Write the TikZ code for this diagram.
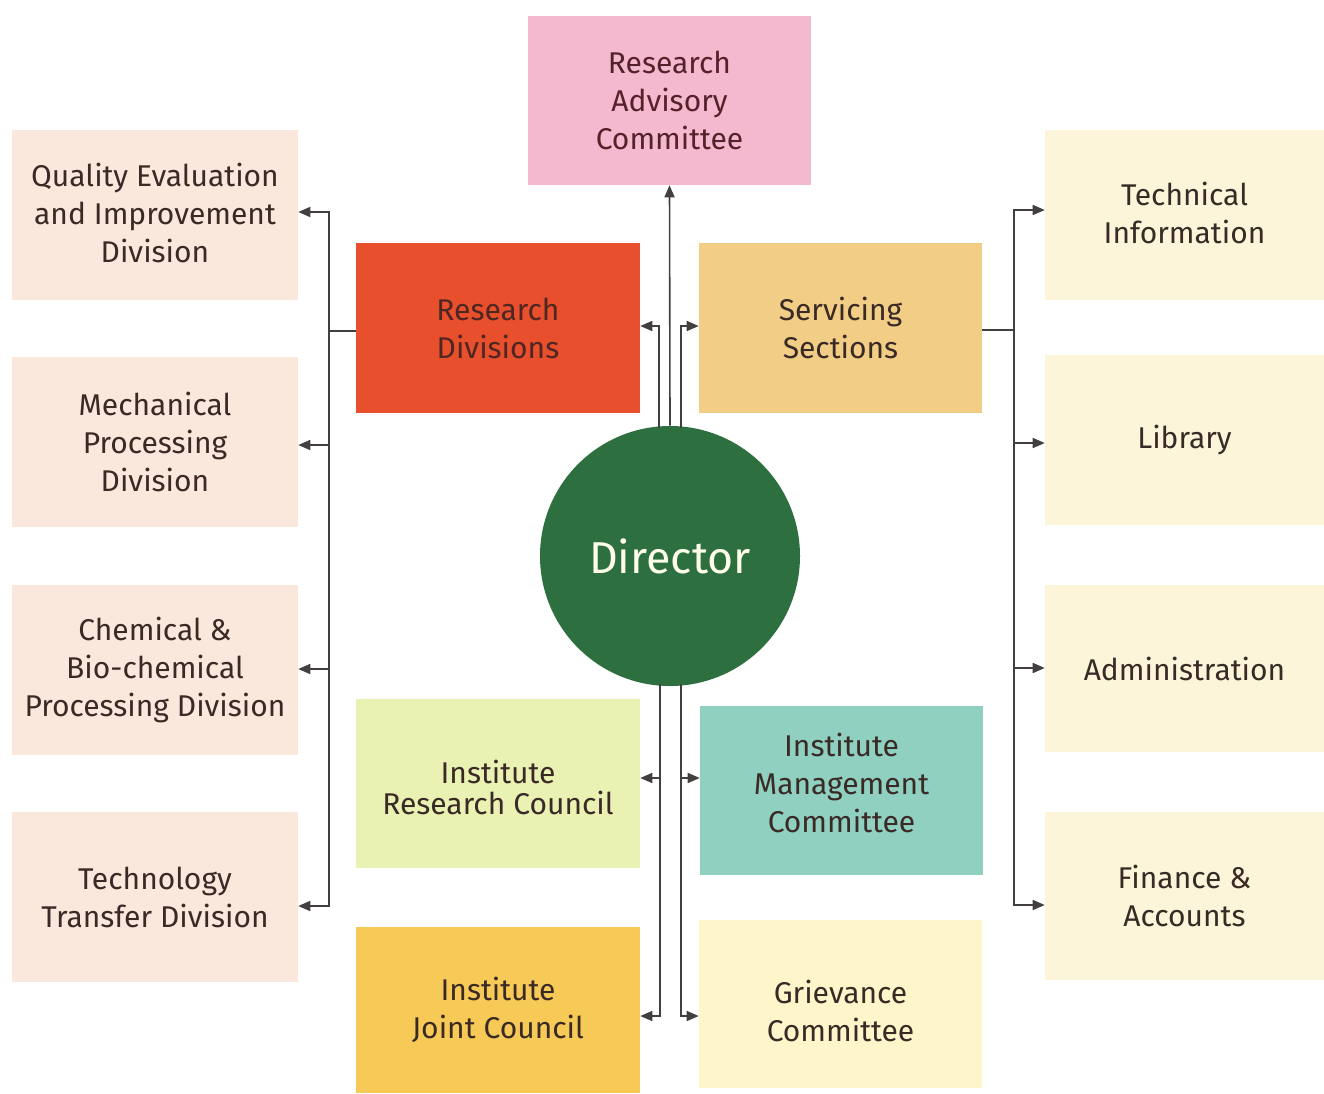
\documentclass[tikz,border=0pt]{standalone}
\usepackage{fontspec}
\setmainfont{Fira Sans}
\usetikzlibrary{arrows.meta,calc}

\definecolor{linec}{HTML}{443F3F}
\definecolor{txt}{HTML}{3A2A26}
\definecolor{racfill}{HTML}{F4B9CE}
\definecolor{leftfill}{HTML}{FBE8DC}
\definecolor{rdfill}{HTML}{E84F2C}
\definecolor{ssfill}{HTML}{F1CD86}
\definecolor{rightfill}{HTML}{FDF5D9}
\definecolor{dirfill}{HTML}{2D6F3E}
\definecolor{ircfill}{HTML}{E9F2B3}
\definecolor{imcfill}{HTML}{8FD0C1}
\definecolor{ijcfill}{HTML}{F7C957}
\definecolor{gcfill}{HTML}{FEF6CA}

\begin{document}
\begin{tikzpicture}[x=0.75pt,y=-0.75pt,
  box/.style={rectangle, inner sep=0pt, align=center, text=txt,
    font=\fontsize{22.5}{28.5}\selectfont},
  caption/.style={inner sep=0pt, align=center, text=txt,
    font=\fontsize{22.5}{28.5}\selectfont},
  sz/.style 2 args={minimum width=#1*0.75pt, minimum height=#2*0.75pt},
  link/.style={draw=linec, line width=1.2pt},
  arr/.style={link, -{Triangle[length=9pt,width=7.5pt]}}]

\useasboundingbox (0,0) rectangle (1324,1093);

% top committee
\node[box, fill=racfill, sz={283}{169}, text=txt!80!purple] (rac) at (669.5,100.5)
  {Research\\Advisory\\Committee};

% director
\node[circle, fill=dirfill, minimum size=260*0.75pt, inner sep=0pt,
  text=white!92!yellow, font=\fontsize{33.5}{38}\selectfont] (dir) at (670,556) {Director};

% central units
\node[box, fill=rdfill, sz={284}{170}, text=txt!90!red] (rd) at (498,328) {Research\\Divisions};
\node[box, fill=ssfill, sz={283}{170}] (ss) at (840.5,328) {Servicing\\Sections};
\node[box, fill=ircfill, sz={284}{169}] (irc) at (498,783.5) {};
\node[caption] (irc-t) at (498,787.5) {Institute\\[-5.25pt]Research Council};
\node[box, fill=imcfill, sz={283}{169}] (imc) at (841.5,790.5) {};
\node[caption] (imc-t) at (841.5,783) {Institute\\Management\\Committee};
\node[box, fill=ijcfill, sz={284}{166}] (ijc) at (498,1010) {Institute\\Joint Council};
\node[box, fill=gcfill, sz={283}{168}] (gc) at (840.5,1004) {};
\node[caption] (gc-t) at (840.5,1011) {Grievance\\Committee};

% research divisions (left column)
\node[box, fill=leftfill, sz={286}{170}] (qe) at (155,215) {};
\node[caption] (qe-t) at (155,212.5) {Quality Evaluation\\and Improvement\\Division};
\node[box, fill=leftfill, sz={286}{170}] (mp) at (155,442) {Mechanical\\Processing\\Division};
\node[box, fill=leftfill, sz={286}{170}] (cb) at (155,670) {Chemical \&\\Bio-chemical\\Processing Division};
\node[box, fill=leftfill, sz={286}{170}] (tt) at (155,897) {Technology\\Transfer Division};

% servicing sections (right column)
\node[box, fill=rightfill, sz={279}{170}] (ti) at (1184.5,215) {};
\node[caption] (ti-t) at (1184.5,212.5) {Technical\\Information};
\node[box, fill=rightfill, sz={279}{170}] (lib) at (1184.5,440) {Library};
\node[box, fill=rightfill, sz={279}{167}] (adm) at (1184.5,668.5) {Administration};
\node[box, fill=rightfill, sz={279}{168}] (fa) at (1184.5,896) {Finance \&\\Accounts};

% branch levels
\coordinate (yrd) at (0,326);
\coordinate (yup) at (0,778);
\coordinate (ylow) at (0,1016);
\coordinate (lt) at (329,331);
\coordinate (rt) at (1014,330);
\coordinate (y1) at (0,212);
\coordinate (y2) at (0,445);
\coordinate (y3) at (0,669);
\coordinate (y4) at (0,906);
\coordinate (z1) at (0,210);
\coordinate (z2) at (0,443);
\coordinate (z3) at (0,668);
\coordinate (z4) at (0,905);

% director upwards
\draw[arr] (dir.north) -- (rac.south);
\draw[arr] ($(dir.north)+(-11,2)$) |- (rd.east |- yrd);
\draw[arr] ($(dir.north)+(11,2)$) |- (ss.west |- yrd);

% director downwards
\draw[arr] ($(dir.south)+(-10,-2)$) |- (irc.east |- yup);
\draw[arr] ($(dir.south)+(-10,-2)$) |- (ijc.east |- ylow);
\draw[arr] ($(dir.south)+(11,-2)$) |- (imc.west |- yup);
\draw[arr] ($(dir.south)+(11,-2)$) |- (gc.west |- ylow);

% left bracket
\draw[link] (rd.west |- lt) -- (lt);
\draw[arr] (lt) |- (qe.east |- y1);
\draw[arr] (lt) |- (mp.east |- y2);
\draw[arr] (lt) |- (cb.east |- y3);
\draw[arr] (lt) |- (tt.east |- y4);

% right bracket
\draw[link] (ss.east |- rt) -- (rt);
\draw[arr] (rt) |- (ti.west |- z1);
\draw[arr] (rt) |- (lib.west |- z2);
\draw[arr] (rt) |- (adm.west |- z3);
\draw[arr] (rt) |- (fa.west |- z4);

\end{tikzpicture}
\end{document}
